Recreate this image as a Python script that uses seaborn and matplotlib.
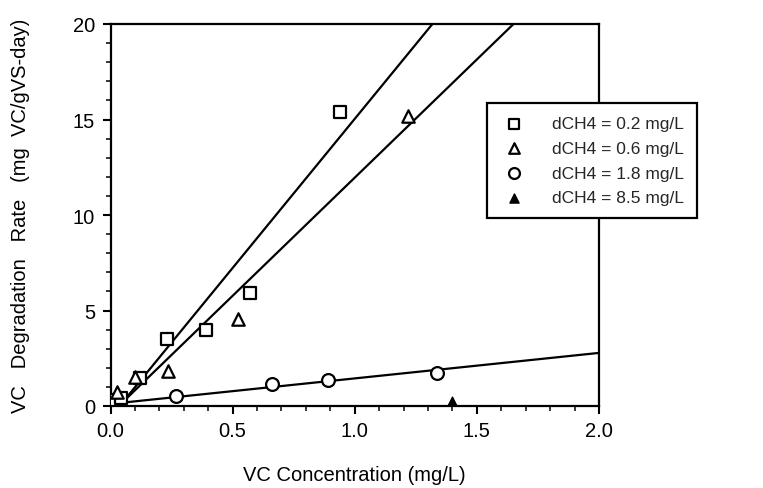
import matplotlib
matplotlib.use("Agg")
import matplotlib.pyplot as plt
import seaborn as sns
import pandas as pd
import numpy as np
from matplotlib.ticker import MultipleLocator

sns.set_theme(style="ticks")
plt.rcParams['font.family'] = ['Liberation Sans', 'DejaVu Sans']

# ---- data ----
sq_x = [0.015, 0.045, 0.12, 0.23, 0.39, 0.57, 0.94]
sq_y = [0.3, 0.4, 1.45, 3.5, 4.0, 5.9, 15.4]
tri_x = [0.025, 0.10, 0.235, 0.52, 1.22]
tri_y = [0.75, 1.5, 1.85, 4.55, 15.2]
circ_x = [0.27, 0.66, 0.89, 1.335]
circ_y = [0.5, 1.15, 1.35, 1.75]
ftri_x = [1.40]
ftri_y = [0.2]

# fitted lines (start/end points)
fit1_x = [0.05, 1.318]
fit1_y = [0.2, 20.0]
fit2_x = [0.05, 1.65]
fit2_y = [0.2, 20.0]
fit3_x = [0.03, 2.0]
fit3_y = [0.15, 2.78]

labels = ["dCH4 = 0.2 mg/L", "dCH4 = 0.6 mg/L", "dCH4 = 1.8 mg/L", "dCH4 = 8.5 mg/L"]
x_label = "VC Concentration (mg/L)"
y_label = "VC   Degradation   Rate   (mg  VC/gVS-day)"

W, H = 763, 489
fig = plt.figure(figsize=(W / 100, H / 100), dpi=100)
ax = fig.add_axes([110.5 / W, 1 - 407 / H, (599 - 110.5) / W, (407 - 25) / H])

lw = 1.6
for fx, fy in [(fit1_x, fit1_y), (fit2_x, fit2_y), (fit3_x, fit3_y)]:
    sns.lineplot(x=fx, y=fy, ax=ax, color="black", linewidth=lw, legend=False)

sns.scatterplot(x=sq_x, y=sq_y, ax=ax, marker="s", s=85, facecolor="white",
                edgecolor="black", linewidth=1.6, label=labels[0], zorder=3)
sns.scatterplot(x=tri_x, y=tri_y, ax=ax, marker="^", s=80, facecolor="white",
                edgecolor="black", linewidth=1.6, label=labels[1], zorder=3)
sns.scatterplot(x=circ_x, y=circ_y, ax=ax, marker="o", s=85, facecolor="white",
                edgecolor="black", linewidth=1.6, label=labels[2], zorder=3)
sns.scatterplot(x=ftri_x, y=ftri_y, ax=ax, marker="^", s=60, facecolor="black",
                edgecolor="black", linewidth=1.0, label=labels[3], zorder=3)

ax.set_xlim(0, 2.0)
ax.set_ylim(0, 20)
ax.xaxis.set_major_locator(MultipleLocator(0.5))
ax.xaxis.set_minor_locator(MultipleLocator(0.1))
ax.yaxis.set_major_locator(MultipleLocator(5))
ax.yaxis.set_minor_locator(MultipleLocator(1))
ax.set_xticklabels([f"{v:.1f}" for v in ax.get_xticks()])
ax.tick_params(axis="both", which="major", direction="out", length=6, width=1.5,
               labelsize=14.5, colors="black", pad=5)
ax.tick_params(axis="both", which="minor", direction="out", length=3.5, width=1.3)
for s in ax.spines.values():
    s.set_visible(True)
    s.set_color("black")
    s.set_linewidth(1.6)

ax.set_xlabel(x_label, fontsize=14.5, color="black", labelpad=18)
ax.set_ylabel(y_label, fontsize=14.5, color="black", labelpad=31)

leg = ax.legend(loc="upper left", bbox_to_anchor=(487 / W, 1 - 104 / H),
                bbox_transform=fig.transFigure, borderaxespad=0,
                fontsize=12.5, frameon=True, fancybox=False, framealpha=1,
                edgecolor="black", handletextpad=1.4, labelspacing=0.55,
                borderpad=0.75, handlelength=1.6, markerscale=0.85)
leg.get_frame().set_linewidth(1.6)

fig.savefig("out.png", dpi=100, facecolor="white")
